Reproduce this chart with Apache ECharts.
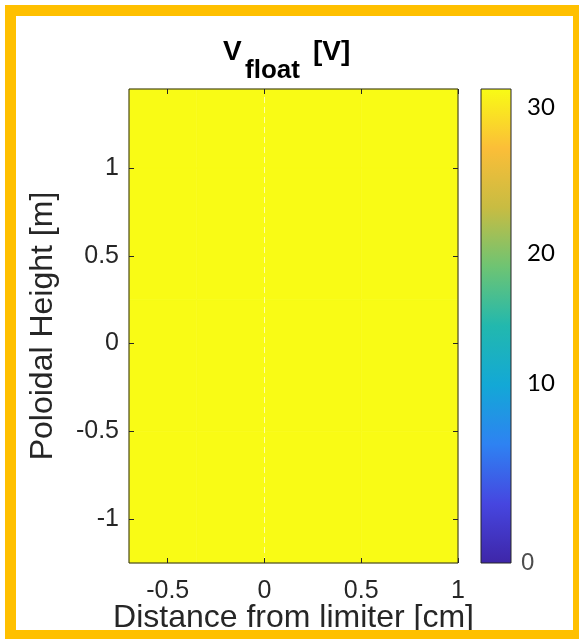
<!DOCTYPE html>
<html>
<head>
<meta charset="utf-8">
<script src="https://cdn.jsdelivr.net/npm/echarts@6/dist/echarts.min.js"></script>
<style>
  html, body { margin: 0; padding: 0; background: #fff; }
  #chart { width: 579px; height: 639px; }
</style>
</head>
<body>
<div id="chart"></div>
<script>
// probe grid (cm from limiter, poloidal height m) and floating potential [V]
const xEdges = [-0.7, -0.35, 0, 0.5, 1.0];
const yEdges = [-1.25, -0.5, 0.25, 1.0, 1.45];
const vFloat = [
    [30.9, 30.9, 30.9, 30.9],
    [30.9, 30.9, 30.9, 30.9],
    [30.9, 30.9, 30.9, 30.9],
    [30.9, 30.9, 30.9, 30.9],
];

const xTicks = [-0.5, 0, 0.5, 1];
const yTicks = [-1, -0.5, 0, 0.5, 1];
const cbarMin = 0;
const cbarMax = 30.9;
const cbarTicks = [0, 3.33, 6.67, 10, 13.33, 16.67, 20, 23.33, 26.67, 30];
const cbarLabelText = ['0', '10', '20', '30'];
const cbarLabelAt = [0, 11.7, 20.2, 29.7];

// parula
const parula = ['#3E26A8', '#4646E0', '#2E82F2', '#13A8D6', '#22B8AE', '#6EC473', '#C8BC42', '#FBBE38', '#F9FB15'];

const chart = echarts.init(document.getElementById('chart'));

const cells = [];
vFloat.forEach((row, j) => {
    row.forEach((v, i) => {
        cells.push([xEdges[i], xEdges[i + 1], yEdges[j], yEdges[j + 1], v]);
    });
});

const axisColor = '#262626';
const tickFont = 'Liberation Sans, Arial, sans-serif';

const option = {
    backgroundColor: '#ffffff',
    animation: false,
    grid: [
        { left: 129, top: 89, width: 329, height: 474, show: true, z: 5, outerBoundsMode: 'none',
          backgroundColor: 'transparent', borderColor: axisColor, borderWidth: 1 },
        { left: 481, top: 89, width: 30, height: 474, show: true, z: 5, outerBoundsMode: 'none',
          backgroundColor: 'transparent', borderColor: axisColor, borderWidth: 1 },
    ],
    xAxis: [
        {
            gridIndex: 0, type: 'value', min: -0.7, max: 1.0, position: 'bottom', z: 6,
            name: 'Distance from limiter [cm]', nameLocation: 'middle', nameGap: 39,
            nameMoveOverlap: false,
            nameTextStyle: { fontSize: 32, color: axisColor, fontFamily: tickFont },
            axisLine: { show: false, onZero: false },
            axisTick: { inside: true, length: 5, customValues: xTicks, lineStyle: { color: axisColor } },
            axisLabel: { customValues: xTicks, fontSize: 25, color: axisColor, fontFamily: tickFont, margin: 16 },
            splitLine: { show: false },
        },
        {
            gridIndex: 0, type: 'value', min: -0.7, max: 1.0, position: 'top', z: 6,
            axisLine: { show: false, onZero: false },
            axisTick: { inside: true, length: 5, customValues: xTicks, lineStyle: { color: axisColor } },
            axisLabel: { show: false },
            splitLine: { show: false },
        },
        {
            gridIndex: 1, type: 'category', data: ['c'], show: false,
        },
    ],
    yAxis: [
        {
            gridIndex: 0, type: 'value', min: -1.25, max: 1.45, position: 'left', z: 6,
            name: 'Poloidal Height [m]', nameLocation: 'middle', nameGap: 70,
            nameMoveOverlap: false,
            nameTextStyle: { fontSize: 32, color: axisColor, fontFamily: tickFont },
            axisLine: { show: false, onZero: false },
            axisTick: { inside: true, length: 5, customValues: yTicks, lineStyle: { color: axisColor } },
            axisLabel: { customValues: yTicks, fontSize: 25, color: axisColor, fontFamily: tickFont, margin: 10 },
            splitLine: { show: false },
        },
        {
            gridIndex: 0, type: 'value', min: -1.25, max: 1.45, position: 'right', z: 6,
            axisLine: { show: false, onZero: false },
            axisTick: { inside: true, length: 5, customValues: yTicks, lineStyle: { color: axisColor } },
            axisLabel: { show: false },
            splitLine: { show: false },
        },
        {
            gridIndex: 1, type: 'value', min: cbarMin, max: cbarMax, position: 'right', z: 6,
            axisLine: { show: false, onZero: false },
            axisTick: { inside: true, length: 4, customValues: cbarTicks, lineStyle: { color: axisColor } },
            axisLabel: {
                customValues: cbarLabelAt,
                margin: 10,
                formatter: (val) => {
                    const i = cbarLabelAt.indexOf(val);
                    const t = i >= 0 ? cbarLabelText[i] : '';
                    return t === '0' ? '{z|' + t + '}' : '{n|' + t + '}';
                },
                rich: {
                    z: { fontSize: 24, color: '#4d4d4d', fontFamily: tickFont },
                    n: { fontSize: 24, color: '#000000', fontFamily: 'Lato, sans-serif', padding: [0, 0, 0, 6] },
                },
            },
            splitLine: { show: false },
        },
    ],
    visualMap: {
        show: false,
        type: 'continuous',
        min: cbarMin,
        max: cbarMax,
        dimension: 4,
        seriesIndex: 0,
        inRange: { color: parula },
    },
    graphic: [
        {
            type: 'rect', z: 100, silent: true,
            shape: { x: 10.5, y: 10.5, width: 568, height: 625 },
            style: { fill: 'none', stroke: '#FFC000', lineWidth: 11 },
        },
        {
            type: 'text', x: 223, y: 66, z: 100,
            style: { text: 'V', fontSize: 28, fontWeight: 'bold', fill: '#000', fontFamily: tickFont, verticalAlign: 'bottom' },
        },
        {
            type: 'text', x: 245, y: 84, z: 100,
            style: { text: 'float', fontSize: 26, fontWeight: 'bold', fill: '#000', fontFamily: tickFont, verticalAlign: 'bottom' },
        },
        {
            type: 'text', x: 313, y: 66, z: 100,
            style: { text: '[V]', fontSize: 28, fontWeight: 'bold', fill: '#000', fontFamily: tickFont, verticalAlign: 'bottom' },
        },
    ],
    series: [
        {
            type: 'custom',
            xAxisIndex: 0,
            yAxisIndex: 0,
            encode: { x: [0, 1], y: [2, 3] },
            data: cells,
            renderItem: (params, api) => {
                const p0 = api.coord([api.value(0), api.value(3)]);
                const p1 = api.coord([api.value(1), api.value(2)]);
                const c = api.visual('color');
                return {
                    type: 'rect',
                    shape: { x: p0[0], y: p0[1], width: p1[0] - p0[0], height: p1[1] - p0[1] },
                    style: { fill: c, stroke: c, lineWidth: 0.6 },
                };
            },
            markLine: {
                silent: true,
                symbol: 'none',
                label: { show: false },
                lineStyle: { color: '#ffffff', type: [6, 4], width: 1, opacity: 0.6 },
                data: [{ xAxis: 0 }],
            },
        },
        {
            type: 'bar',
            xAxisIndex: 2,
            yAxisIndex: 2,
            barWidth: '100%',
            data: [cbarMax],
            itemStyle: {
                color: new echarts.graphic.LinearGradient(0, 1, 0, 0,
                    parula.map((c, i) => ({ offset: i / (parula.length - 1), color: c }))),
            },
        },
    ],
};

chart.setOption(option);
</script>
</body>
</html>
